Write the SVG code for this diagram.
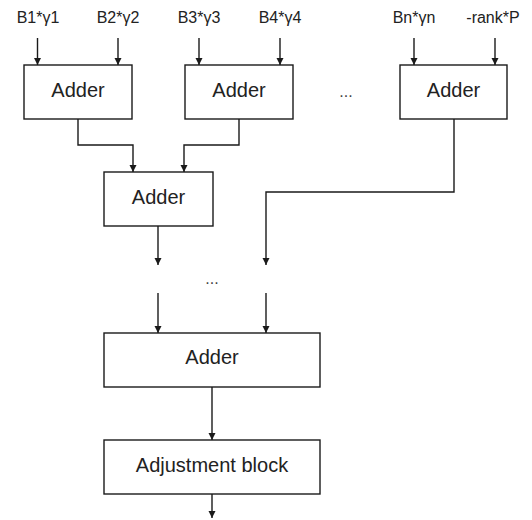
<svg xmlns="http://www.w3.org/2000/svg" width="532" height="520" viewBox="0 0 532 520">
  <style>
    .box { fill: #ffffff; stroke: #1a1a1a; stroke-width: 1.4; }
    .wire { fill: none; stroke: #1a1a1a; stroke-width: 1.4; }
    .lbl { font-family: "Liberation Sans", Arial, sans-serif; font-size: 16px; fill: #222; text-anchor: middle; }
    .name { font-family: "Liberation Sans", Arial, sans-serif; font-size: 20px; fill: #222; text-anchor: middle; }
    .dots { font-family: "Liberation Sans", Arial, sans-serif; font-size: 16px; fill: #444; text-anchor: middle; }
  </style>
  <defs>
    <marker id="arrow" viewBox="0 0 10 10" refX="10" refY="5" markerWidth="7" markerHeight="10" markerUnits="userSpaceOnUse" orient="auto">
      <path d="M0,0 L10,5 L0,10 Z" fill="#1a1a1a"/>
    </marker>
  </defs>
  <rect width="532" height="520" fill="#ffffff"/>

  <!-- input labels -->
  <g id="inputs">
    <text class="lbl" x="38" y="23">B1*γ1</text>
    <text class="lbl" x="118" y="23">B2*γ2</text>
    <text class="lbl" x="199" y="23">B3*γ3</text>
    <text class="lbl" x="280" y="23">B4*γ4</text>
    <text class="lbl" x="414" y="23">Bn*γn</text>
    <text class="lbl" x="493" y="23">-rank*P</text>
  </g>

  <g id="connectors">
    <!-- inputs into first-stage adders -->
    <line class="wire" x1="37.5" y1="38" x2="37.5" y2="65" marker-end="url(#arrow)"/>
    <line class="wire" x1="118" y1="38" x2="118" y2="65" marker-end="url(#arrow)"/>
    <line class="wire" x1="199" y1="38" x2="199" y2="65" marker-end="url(#arrow)"/>
    <line class="wire" x1="280" y1="38" x2="280" y2="65" marker-end="url(#arrow)"/>
    <line class="wire" x1="414" y1="38" x2="414" y2="65" marker-end="url(#arrow)"/>
    <line class="wire" x1="495" y1="38" x2="495" y2="65" marker-end="url(#arrow)"/>
    <!-- first stage into second stage -->
    <polyline class="wire" points="78,119 78,145 133,145 133,172" marker-end="url(#arrow)"/>
    <polyline class="wire" points="239,119 239,145 184,145 184,172" marker-end="url(#arrow)"/>
    <!-- partial sums continuing down -->
    <line class="wire" x1="158" y1="226" x2="158" y2="265" marker-end="url(#arrow)"/>
    <polyline class="wire" points="454,119 454,192 266,192 266,265" marker-end="url(#arrow)"/>
    <!-- into final adder -->
    <line class="wire" x1="158" y1="293" x2="158" y2="333" marker-end="url(#arrow)"/>
    <line class="wire" x1="266" y1="293" x2="266" y2="333" marker-end="url(#arrow)"/>
    <!-- final adder to adjustment, and output -->
    <line class="wire" x1="212" y1="387" x2="212" y2="440" marker-end="url(#arrow)"/>
    <line class="wire" x1="212" y1="494" x2="212" y2="518" marker-end="url(#arrow)"/>
  </g>

  <g id="adder1">
    <rect class="box" x="24" y="65" width="108" height="54"/>
    <text class="name" x="78" y="97">Adder</text>
  </g>
  <g id="adder2">
    <rect class="box" x="185" y="65" width="108" height="54"/>
    <text class="name" x="239" y="97">Adder</text>
  </g>
  <text class="dots" x="346" y="97">...</text>
  <g id="adderN">
    <rect class="box" x="400" y="65" width="107" height="54"/>
    <text class="name" x="453.5" y="97">Adder</text>
  </g>
  <g id="adder12">
    <rect class="box" x="104" y="172" width="109" height="54"/>
    <text class="name" x="158.5" y="204">Adder</text>
  </g>
  <text class="dots" x="212" y="284">...</text>
  <g id="adderFinal">
    <rect class="box" x="104" y="333" width="216" height="54"/>
    <text class="name" x="212" y="364">Adder</text>
  </g>
  <g id="adjustment">
    <rect class="box" x="104" y="440" width="216" height="54"/>
    <text class="name" x="212" y="472">Adjustment block</text>
  </g>
</svg>
